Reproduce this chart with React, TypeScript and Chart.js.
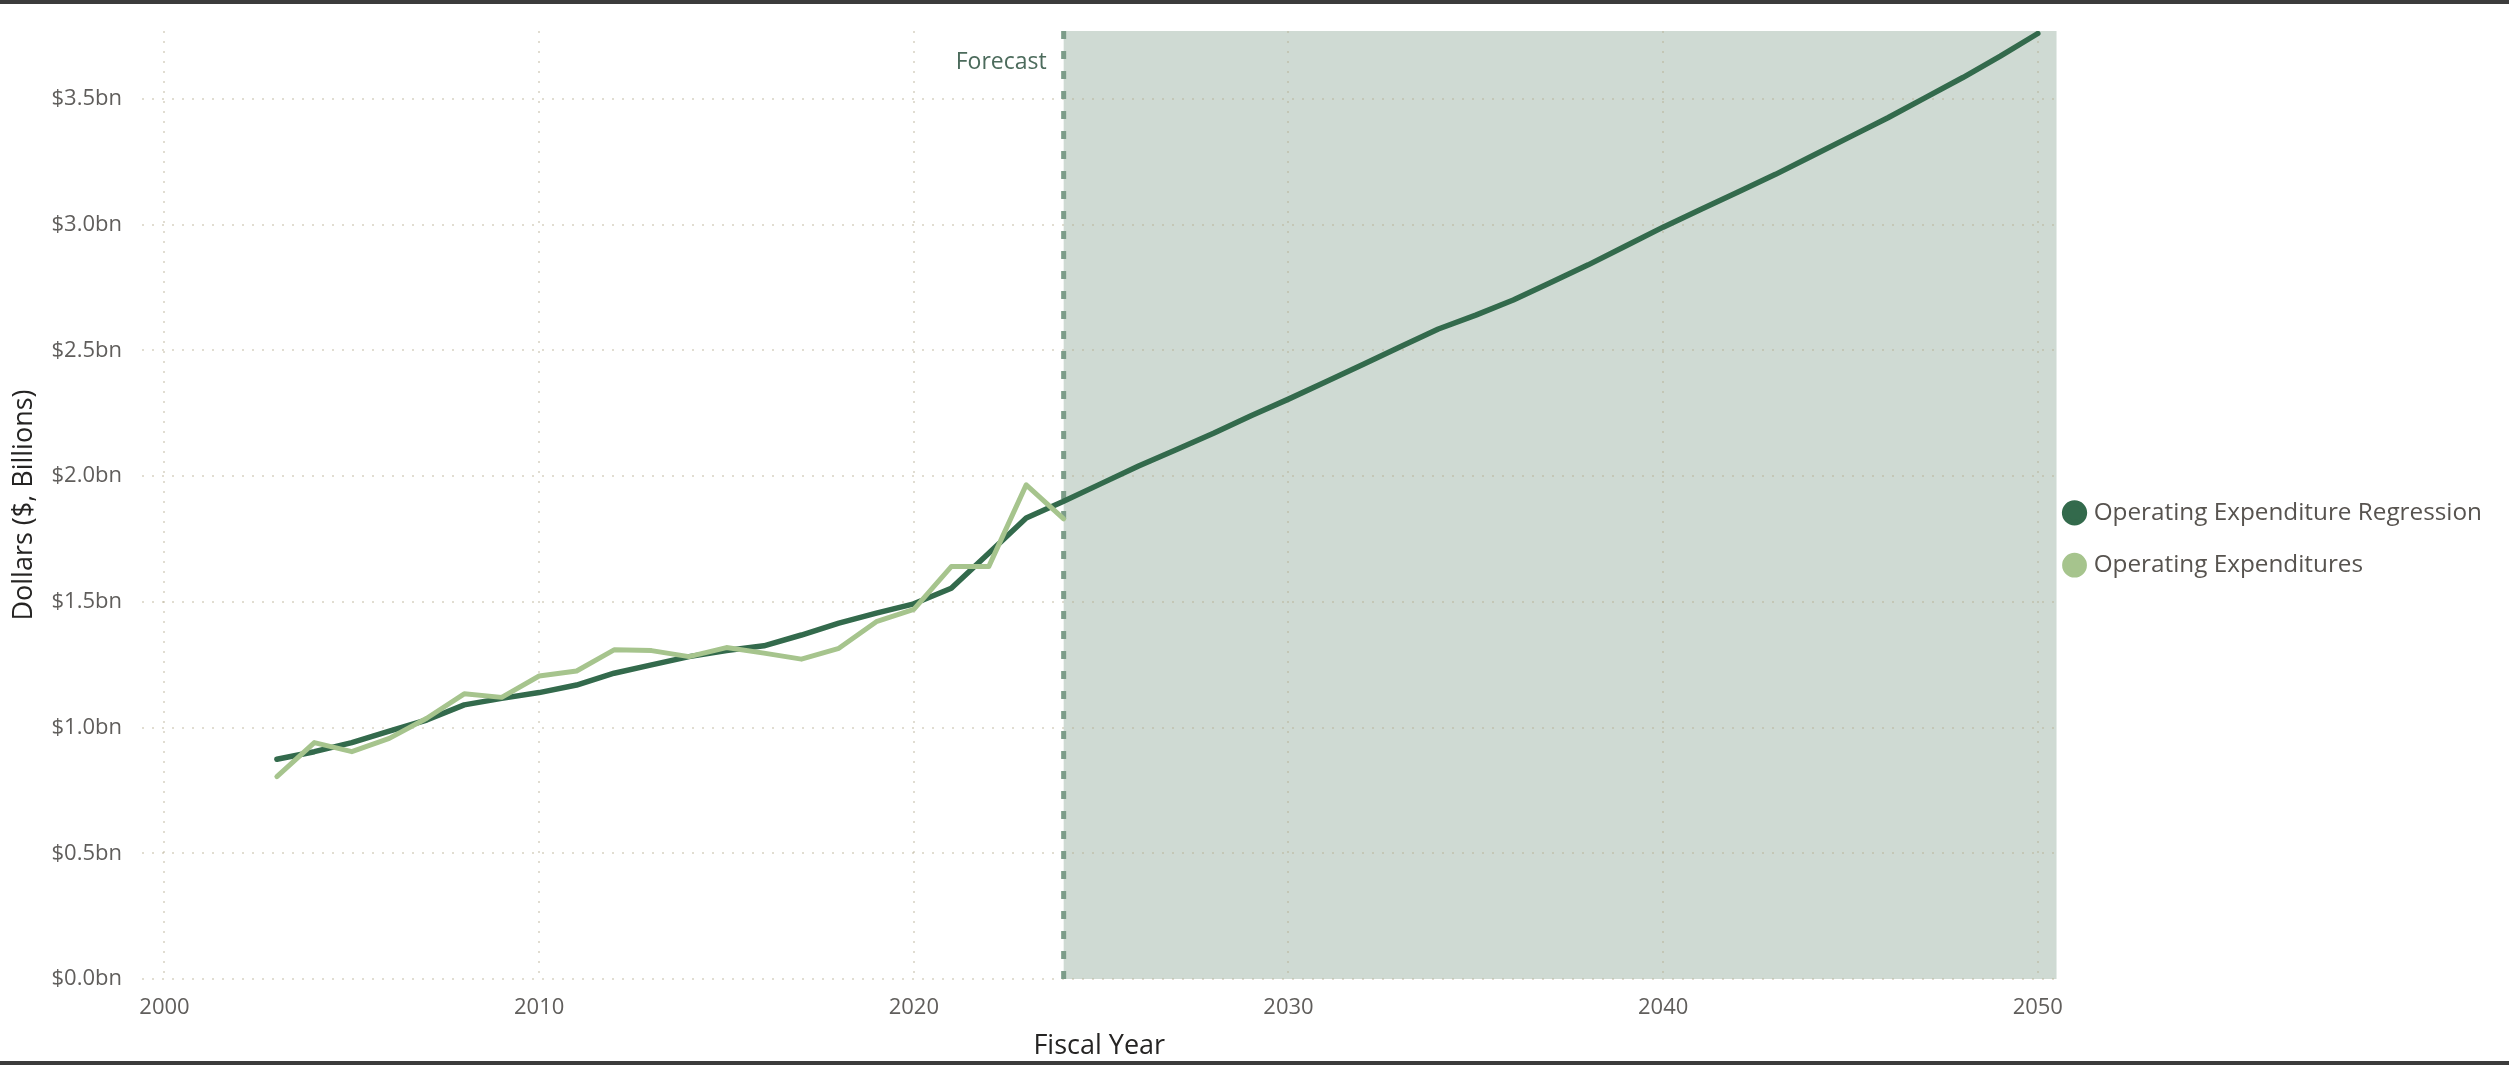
import React, { useEffect, useRef } from "react";
import { Chart, registerables } from "chart.js";

Chart.register(...registerables);

// ---- Data ----
const actualYears = [
  2003, 2004, 2005, 2006, 2007, 2008, 2009, 2010, 2011, 2012, 2013,
  2014, 2015, 2016, 2017, 2018, 2019, 2020, 2021, 2022, 2023, 2024,
];
const actualValues = [
  0.805, 0.94, 0.904, 0.957, 1.037, 1.134, 1.12, 1.205, 1.225, 1.309, 1.306,
  1.282, 1.318, 1.296, 1.272, 1.315, 1.421, 1.47, 1.64, 1.64, 1.965, 1.83,
];

const regressionYears = [
  2003, 2004, 2005, 2006, 2007, 2008, 2009, 2010, 2011, 2012, 2013, 2014,
  2015, 2016, 2017, 2018, 2019, 2020, 2021, 2022, 2023, 2024, 2025, 2026,
  2027, 2028, 2029, 2030, 2031, 2032, 2033, 2034, 2035, 2036, 2037, 2038,
  2039, 2040, 2041, 2042, 2043, 2044, 2045, 2046, 2047, 2048, 2049, 2050,
];
const regressionValues = [
  0.874, 0.904, 0.94, 0.986, 1.03, 1.09, 1.116, 1.139, 1.169, 1.216, 1.249, 1.282,
  1.306, 1.325, 1.368, 1.415, 1.455, 1.492, 1.554, 1.693, 1.833, 1.9, 1.97, 2.04,
  2.105, 2.17, 2.24, 2.306, 2.375, 2.445, 2.515, 2.585, 2.64, 2.7, 2.77, 2.84,
  2.915, 2.99, 3.06, 3.13, 3.2, 3.275, 3.35, 3.425, 3.505, 3.585, 3.67, 3.76,
];

const xTickValues = [2000, 2010, 2020, 2030, 2040, 2050];
const yTickValues = [0, 0.5, 1.0, 1.5, 2.0, 2.5, 3.0, 3.5];
const forecastStartYear = 2024;
const forecastLabel = "Forecast";
const seriesNames = ["Operating Expenditure Regression", "Operating Expenditures"];
const axisTitles = { x: "Fiscal Year", y: "Dollars ($, Billions)" };

const FONT = "'Segoe UI', 'Open Sans', sans-serif";
const DARK = "#336A4C";
const LIGHT = "#A6C48D";
const SHADE = "#CFDAD3";
const FORECAST_LINE = "#7C9C89";
const GRID = "rgba(180,170,140,0.4)";

export default function App() {
  const canvasRef = useRef<HTMLCanvasElement | null>(null);

  useEffect(() => {
    if (!canvasRef.current) return;

    const forecastPlugin = {
      id: "forecastZone",
      afterLayout(chart: any) {
        const lg = chart.legend;
        if (!lg) return;
        const dx = chart.chartArea.right - 17 - lg.left;
        lg.left += dx;
        lg.right += dx;
        lg.top -= 7;
        lg.bottom -= 7;
      },
      beforeDraw(chart: any) {
        const { ctx, chartArea, scales } = chart;
        const x = scales.x.getPixelForValue(forecastStartYear);
        ctx.save();
        ctx.fillStyle = SHADE;
        ctx.fillRect(x, chartArea.top, chartArea.right - x, chartArea.bottom - chartArea.top);
        ctx.restore();
      },
      beforeDatasetsDraw(chart: any) {
        const { ctx, chartArea, scales } = chart;
        const x = scales.x.getPixelForValue(forecastStartYear);
        ctx.save();
        ctx.strokeStyle = FORECAST_LINE;
        ctx.lineWidth = 5;
        ctx.setLineDash([8, 12]);
        ctx.beginPath();
        ctx.moveTo(x, chartArea.top);
        ctx.lineTo(x, chartArea.bottom);
        ctx.stroke();
        ctx.setLineDash([]);
        ctx.fillStyle = "#4C6B5C";
        ctx.font = `23px ${FONT}`;
        ctx.textAlign = "right";
        ctx.textBaseline = "middle";
        ctx.fillText(forecastLabel, x - 17, chartArea.top + 31);
        ctx.restore();
      },
    };

    const chart = new Chart(canvasRef.current, {
      type: "line",
      data: {
        datasets: [
          {
            label: seriesNames[0],
            data: regressionYears.map((x, i) => ({ x, y: regressionValues[i] })),
            borderColor: DARK,
            backgroundColor: DARK,
            borderWidth: 5.5,
            pointRadius: 0,
            tension: 0,
            borderJoinStyle: "round",
            borderCapStyle: "round",
            order: 2,
          },
          {
            label: seriesNames[1],
            data: actualYears.map((x, i) => ({ x, y: actualValues[i] })),
            borderColor: LIGHT,
            backgroundColor: LIGHT,
            borderWidth: 5,
            pointRadius: 0,
            tension: 0,
            borderJoinStyle: "round",
            borderCapStyle: "round",
            order: 1,
          },
        ],
      },
      options: {
        animation: false,
        responsive: true,
        maintainAspectRatio: false,
        layout: { padding: { top: 27, right: 0, bottom: 0, left: 0 } },
        plugins: {
          tooltip: { enabled: false },
          legend: {
            position: "right",
            align: "center",
            labels: {
              usePointStyle: true,
              pointStyle: "circle",
              boxWidth: 14,
              boxHeight: 14,
              padding: 28,
              color: "#57534F",
              font: { family: FONT, size: 24.3 },
              sort: (a: any, b: any) => a.datasetIndex - b.datasetIndex,
            },
          },
        },
        scales: {
          x: {
            type: "linear",
            min: 1999.4,
            max: 2050.5,
            afterBuildTicks: (scale: any) => {
              scale.ticks = xTickValues.map((v) => ({ value: v }));
            },
            afterFit: (scale: any) => {
              scale.height = 82;
            },
            ticks: {
              autoSkip: false,
              maxRotation: 0,
              padding: 16,
              color: "#605E5C",
              font: { family: FONT, size: 22 },
              callback: (v: any) => String(v),
            },
            grid: { color: GRID, lineWidth: 2, drawTicks: false },
            border: { display: false, dash: [2, 8] },
            title: {
              display: true,
              text: axisTitles.x,
              color: "#252423",
              font: { family: FONT, size: 27 },
              padding: { top: 0, bottom: -2 },
            },
          },
          y: {
            type: "linear",
            min: 0,
            max: 3.77,
            afterBuildTicks: (scale: any) => {
              scale.ticks = yTickValues.map((v) => ({ value: v }));
            },
            afterFit: (scale: any) => {
              scale.width = 142;
              scale.paddingTop = 0;
              scale.paddingBottom = 0;
            },
            ticks: {
              padding: 20,
              color: "#605E5C",
              font: { family: FONT, size: 22 },
              callback: (v: any) => `$${Number(v).toFixed(1)}bn`,
            },
            grid: { color: GRID, lineWidth: 2, drawTicks: false },
            border: { display: false, dash: [2, 8] },
            title: {
              display: true,
              text: axisTitles.y,
              color: "#252423",
              font: { family: FONT, size: 27 },
              padding: { top: 8, bottom: 0 },
            },
          },
        },
      },
      plugins: [forecastPlugin],
    } as any);

    return () => chart.destroy();
  }, []);

  return (
    <div
      style={{
        position: "absolute",
        left: 0,
        top: 0,
        width: 2509,
        height: 1065,
        boxSizing: "border-box",
        background: "#fff",
        borderTop: "4px solid #3c3c3c",
        borderBottom: "4px solid #3c3c3c",
      }}
    >
      <div style={{ position: "relative", width: 2509, height: 1057 }}>
        <canvas ref={canvasRef} />
      </div>
    </div>
  );
}
